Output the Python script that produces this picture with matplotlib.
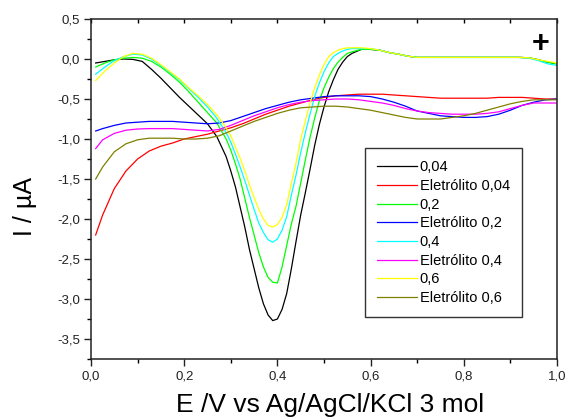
import matplotlib
matplotlib.use("Agg")
import matplotlib.pyplot as plt
from matplotlib.ticker import MultipleLocator, FuncFormatter

plt.rcParams['font.family'] = ['Liberation Sans', 'DejaVu Sans']

# potential grid for sample curves (V)
x_samp = [0.01, 0.03, 0.05, 0.07, 0.09, 0.11, 0.13, 0.15, 0.17, 0.19, 0.21, 0.23, 0.25, 0.27, 0.29,
          0.30, 0.31, 0.32, 0.33, 0.34, 0.35, 0.36, 0.37, 0.38, 0.39, 0.40, 0.41, 0.42, 0.43, 0.44,
          0.45, 0.46, 0.47, 0.48, 0.49, 0.50, 0.51, 0.52, 0.53, 0.54, 0.55, 0.56,
          0.58, 0.60, 0.62, 0.64, 0.66, 0.68, 0.70, 0.72, 0.74, 0.76, 0.78, 0.80, 0.82, 0.84,
          0.86, 0.88, 0.90, 0.92, 0.94, 0.96, 0.98, 1.00]

tail = [0.12, 0.12, 0.11, 0.08, 0.06, 0.035, 0.02, 0.02, 0.02, 0.02, 0.02, 0.02, 0.02, 0.02,
        0.02, 0.02, 0.02, 0.02, 0.015, -0.01, -0.04, -0.06]

y_004 = [-0.05, -0.03, -0.01, 0.0, -0.005, -0.03, -0.13, -0.24, -0.36, -0.48, -0.59, -0.70, -0.81, -0.97, -1.22,
         -1.40, -1.60, -1.85, -2.10, -2.38, -2.62, -2.86, -3.06, -3.20, -3.27, -3.25, -3.13, -2.93, -2.62, -2.28,
         -1.95, -1.67, -1.38, -1.08, -0.82, -0.60, -0.41, -0.26, -0.13, -0.04, 0.03, 0.07] + tail

y_02 = [-0.10, -0.05, -0.01, 0.01, 0.02, 0.01, -0.03, -0.10, -0.19, -0.29, -0.41, -0.54, -0.67, -0.80, -1.00,
        -1.14, -1.31, -1.50, -1.74, -1.98, -2.20, -2.42, -2.60, -2.73, -2.79, -2.80, -2.60, -2.33, -2.06, -1.84,
        -1.55, -1.26, -0.98, -0.74, -0.52, -0.36, -0.23, -0.12, -0.04, 0.02, 0.07, 0.09] + tail

y_04 = [-0.19, -0.10, -0.02, 0.03, 0.06, 0.05, 0.00, -0.08, -0.17, -0.26, -0.37, -0.48, -0.60, -0.74, -0.92,
        -1.04, -1.19, -1.35, -1.52, -1.70, -1.88, -2.05, -2.17, -2.26, -2.29, -2.25, -2.14, -1.97, -1.70, -1.45,
        -1.17, -0.92, -0.69, -0.47, -0.30, -0.16, -0.05, 0.03, 0.07, 0.10, 0.12, 0.13,
        0.13, 0.13, 0.11, 0.08, 0.06, 0.035, 0.02, 0.02, 0.02, 0.02, 0.02, 0.02, 0.02, 0.02,
        0.02, 0.02, 0.02, 0.02, 0.01, -0.02, -0.06, -0.08]

y_06 = [-0.27, -0.15, -0.05, 0.03, 0.07, 0.06, 0.01, -0.07, -0.16, -0.25, -0.36, -0.46, -0.57, -0.70, -0.86,
        -0.96, -1.10, -1.24, -1.40, -1.57, -1.73, -1.88, -2.00, -2.08, -2.10, -2.07, -1.98, -1.82, -1.55, -1.30,
        -1.00, -0.77, -0.55, -0.36, -0.20, -0.07, 0.03, 0.08, 0.11, 0.13, 0.14, 0.14,
        0.14, 0.13, 0.11, 0.08, 0.06, 0.035, 0.02, 0.02, 0.02, 0.02, 0.02, 0.02, 0.02, 0.02,
        0.02, 0.02, 0.02, 0.02, 0.015, -0.01, -0.03, -0.05]

# potential grid for electrolyte curves (V)
x_elet = [0.01, 0.025, 0.05, 0.075, 0.1, 0.125, 0.15, 0.175, 0.2, 0.225, 0.25, 0.275, 0.3, 0.325,
          0.35, 0.375, 0.4, 0.425, 0.45, 0.475, 0.5, 0.525, 0.55, 0.575, 0.6, 0.625, 0.65, 0.675,
          0.7, 0.725, 0.75, 0.775, 0.8, 0.825, 0.85, 0.875, 0.9, 0.925, 0.95, 0.975, 1.0]

e_004 = [-2.20, -1.95, -1.62, -1.40, -1.25, -1.15, -1.09, -1.05, -1.00, -0.97, -0.94, -0.90, -0.86, -0.81,
         -0.75, -0.69, -0.64, -0.59, -0.55, -0.51, -0.48, -0.46, -0.45, -0.44, -0.44, -0.44, -0.45, -0.46,
         -0.47, -0.48, -0.49, -0.49, -0.49, -0.49, -0.49, -0.48, -0.48, -0.48, -0.49, -0.50, -0.50]

e_02 = [-0.90, -0.87, -0.83, -0.80, -0.79, -0.78, -0.78, -0.78, -0.79, -0.80, -0.81, -0.80, -0.77, -0.72,
        -0.67, -0.62, -0.58, -0.54, -0.51, -0.49, -0.47, -0.46, -0.46, -0.46, -0.47, -0.50, -0.54, -0.59,
        -0.65, -0.68, -0.71, -0.72, -0.73, -0.73, -0.72, -0.69, -0.64, -0.58, -0.54, -0.51, -0.50]

e_04 = [-1.12, -1.01, -0.93, -0.89, -0.875, -0.87, -0.87, -0.87, -0.88, -0.89, -0.90, -0.88, -0.83, -0.77,
        -0.71, -0.66, -0.61, -0.57, -0.54, -0.52, -0.51, -0.50, -0.50, -0.51, -0.53, -0.55, -0.58, -0.62,
        -0.65, -0.67, -0.68, -0.69, -0.69, -0.69, -0.68, -0.66, -0.62, -0.58, -0.55, -0.55, -0.55]

e_06 = [-1.50, -1.35, -1.16, -1.06, -1.01, -0.99, -0.99, -0.99, -1.00, -1.00, -0.99, -0.96, -0.90, -0.84,
        -0.78, -0.73, -0.68, -0.64, -0.61, -0.60, -0.59, -0.59, -0.60, -0.62, -0.64, -0.67, -0.70, -0.73,
        -0.75, -0.75, -0.75, -0.73, -0.71, -0.68, -0.64, -0.60, -0.56, -0.53, -0.51, -0.51, -0.51]

labels = ["0,04", "Eletrólito 0,04", "0,2", "Eletrólito 0,2",
          "0,4", "Eletrólito 0,4", "0,6", "Eletrólito 0,6"]
colors = ["#000000", "#ff0000", "#00ff00", "#0000ff",
          "#00ffff", "#ff00ff", "#ffff00", "#808000"]

series = [(x_samp, y_004), (x_elet, e_004), (x_samp, y_02), (x_elet, e_02),
          (x_samp, y_04), (x_elet, e_04), (x_samp, y_06), (x_elet, e_06)]

fig = plt.figure(figsize=(5.67, 4.18), dpi=100)
ax = fig.add_axes([91/567, 1-359/418, (557-91)/567, (359-19)/418])

for (xs, ys), lab, c in zip(series, labels, colors):
    ax.plot(xs, ys, color=c, lw=0.9, label=lab)

ax.set_xlim(0, 1.0)
ax.set_ylim(-3.75, 0.5)
ax.xaxis.set_major_locator(MultipleLocator(0.2))
ax.xaxis.set_minor_locator(MultipleLocator(0.1))
ax.yaxis.set_major_locator(MultipleLocator(0.5))
ax.yaxis.set_minor_locator(MultipleLocator(0.25))
fmt = FuncFormatter(lambda v, p: f"{v:.1f}".replace('.', ',').replace('-0,0', '0,0'))
ax.xaxis.set_major_formatter(fmt)
ax.yaxis.set_major_formatter(fmt)
ax.tick_params(which='major', direction='out', length=5, width=1.0, labelsize=9.5, pad=3,
               colors='#222222', top=False, right=False)
ax.tick_params(which='minor', direction='out', length=3, width=1.0, top=False, right=False)
for s in ax.spines.values():
    s.set_linewidth(1.1)
    s.set_color('#222222')

secx = ax.secondary_xaxis('top')
secx.xaxis.set_major_locator(MultipleLocator(0.1))
secx.tick_params(direction='in', length=3, width=1.0, labeltop=False)
secx.spines['top'].set_visible(False)

leg = ax.legend(loc='upper left', bbox_to_anchor=((365-91)/466, (359-148)/340),
                fontsize=10.5, frameon=True, fancybox=False, handlelength=2.7,
                handletextpad=0.2, labelspacing=0.32, borderpad=0.85, borderaxespad=0)
leg.get_frame().set_edgecolor('black')
leg.get_frame().set_linewidth(1.0)

fig.text(330/567, 1-405/418, "E /V vs Ag/AgCl/KCl 3 mol", fontsize=19, ha='center', va='center')
fig.text(25/567, 1-207/418, "I / µA", fontsize=18, ha='center', va='center', rotation=90)
fig.text(541/567, 1-44/418, "+", fontsize=22, fontweight='bold', ha='center', va='center')

fig.savefig("out.png", dpi=100)
